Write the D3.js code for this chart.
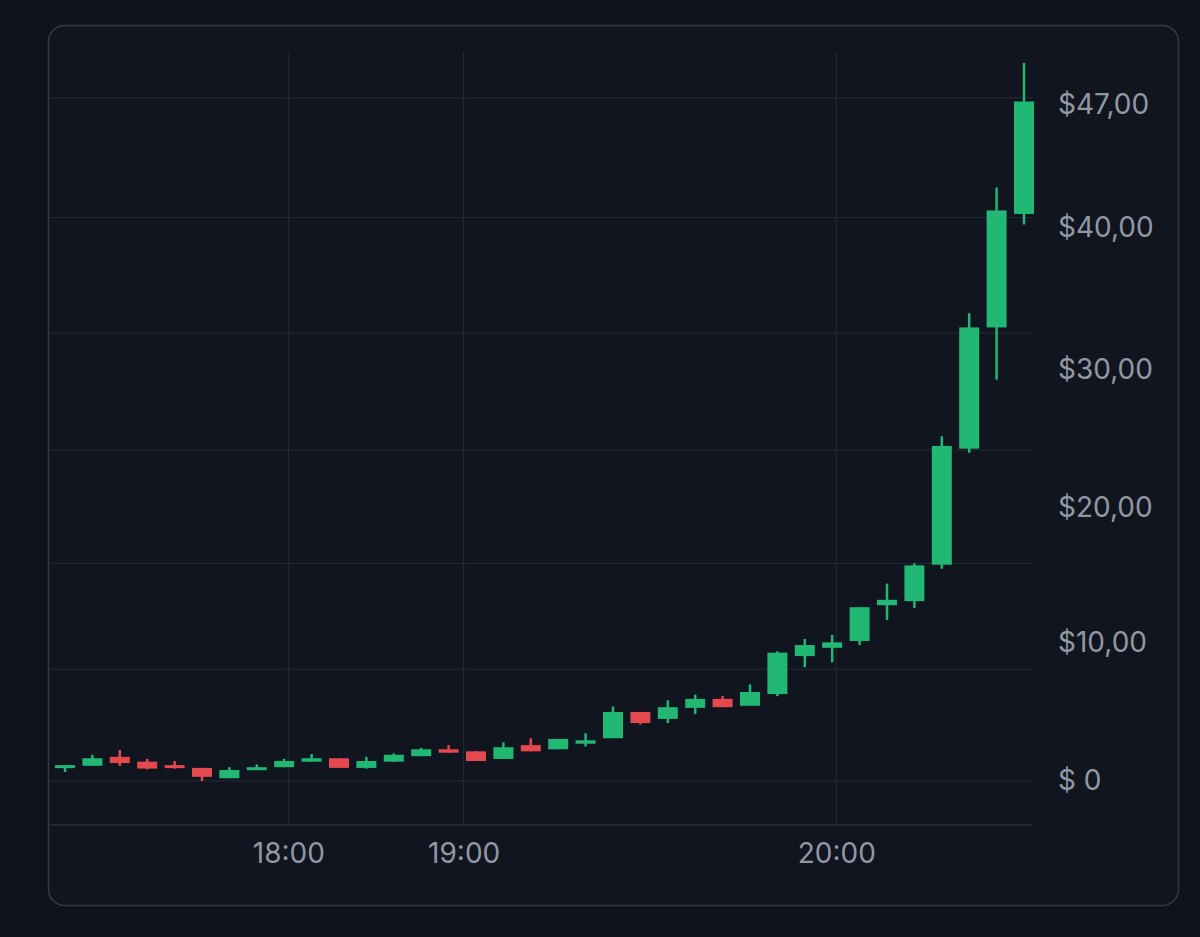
<!DOCTYPE html>
<html><head><meta charset="utf-8">
<script src="https://cdn.jsdelivr.net/npm/d3@7"></script>
<style>html,body{margin:0;background:#10131b;}svg{display:block}</style>
</head><body><svg id="c" width="1200" height="937"></svg>
<script>
const opens  = [1.0,1.1,1.75,1.4,1.15,0.95,0.2,0.8,1.0,1.4,1.65,0.95,1.4,1.8,2.3,2.15,1.6,2.6,2.3,2.7,3.1,5.0,4.5,5.3,5.95,5.45,6.3,9.05,9.65,10.15,12.8,13.1,15.8,24.3,33.0,40.8];
const closes = [1.15,1.65,1.3,0.9,0.95,0.3,0.8,1.0,1.45,1.65,0.95,1.45,1.9,2.3,2.05,1.45,2.45,2.15,3.05,2.95,5.0,4.2,5.35,5.95,5.35,6.45,9.3,9.85,10.05,12.65,13.2,15.75,24.5,33.0,41.0,47.2];
const highs  = [1.15,1.9,2.25,1.6,1.45,0.95,1.0,1.2,1.6,1.95,1.65,1.75,2.0,2.4,2.6,2.15,2.8,3.1,3.05,3.45,5.4,5.0,5.85,6.25,6.15,7.0,9.4,10.3,10.6,12.65,14.4,15.9,25.2,34.0,42.3,49.4];
const lows   = [0.65,1.1,1.1,0.85,0.9,0.0,0.2,0.8,1.0,1.4,0.95,0.9,1.4,1.8,2.05,1.45,1.6,2.15,2.3,2.5,3.1,4.1,4.2,4.85,5.35,5.45,6.15,8.25,8.6,9.85,11.7,12.6,15.5,24.0,29.3,40.2];
const yTickValues = [0,10,20,30,40,47];
const yTickLabels = ["$ 0","$10,00","$20,00","$30,00","$40,00","$47,00"];
const gridValues = [0,8.1,15.9,24.2,32.6,40.6,47.4];
const xTickIndex = [8.15,14.55,28.15];
const xTickLabels = ["18:00","19:00","20:00"];

const svg = d3.select("#c");
const y = d3.scaleLinear().domain([0,10,20,30,40,47]).range([781,643,508,370,228,105]);
const x = d3.scaleLinear().domain([0,35]).range([65,1024]);
const green="#21b874", red="#e5484f", grid="#262a34";

svg.append("rect").attr("x",48.5).attr("y",25.5).attr("width",1130).attr("height",880)
  .attr("rx",16).attr("fill","#111520").attr("stroke","#353a45").attr("stroke-width",1.5);

svg.append("g").selectAll("line").data(gridValues).join("line")
  .attr("x1",49).attr("x2",1032).attr("y1",d=>y(d)).attr("y2",d=>y(d))
  .attr("stroke",grid).attr("stroke-width",1);
svg.append("g").selectAll("line").data(xTickIndex).join("line")
  .attr("x1",d=>x(d)).attr("x2",d=>x(d)).attr("y1",52).attr("y2",825)
  .attr("stroke",grid).attr("stroke-width",1);
svg.append("line").attr("x1",49).attr("x2",1032).attr("y1",825).attr("y2",825).attr("stroke","#343843");

const yAxis = d3.axisRight(y).tickValues(yTickValues).tickFormat((d,i)=>yTickLabels[i]).tickSize(0).tickPadding(0);
const ga = svg.append("g").attr("transform","translate(1058,0)").call(yAxis);
ga.select(".domain").remove();
ga.selectAll("text").attr("fill","#9298a2").style("font-family","Inter, 'Noto Sans', sans-serif").style("font-size","28px");

const xAxis = d3.axisBottom(x).tickValues(xTickIndex).tickFormat((d,i)=>xTickLabels[i]).tickSize(0).tickPadding(0);
const gx = svg.append("g").attr("transform","translate(0,843)").call(xAxis);
gx.select(".domain").remove();
gx.selectAll("text").attr("fill","#9298a2").style("font-family","Inter, 'Noto Sans', sans-serif").style("font-size","28px");

const data = opens.map((o,i)=>({i,o,c:closes[i],h:highs[i],l:lows[i]}));
const bw = 20;
const g = svg.append("g");
g.selectAll("line.w").data(data).join("line").attr("class","w")
  .attr("x1",d=>x(d.i)).attr("x2",d=>x(d.i)).attr("y1",d=>y(d.h)).attr("y2",d=>y(d.l))
  .attr("stroke",d=>d.c>=d.o?green:red).attr("stroke-width",2.5);
g.selectAll("rect").data(data).join("rect")
  .attr("x",d=>x(d.i)-bw/2).attr("width",bw)
  .attr("y",d=>y(Math.max(d.o,d.c)))
  .attr("height",d=>Math.max(3,Math.abs(y(d.o)-y(d.c))))
  .attr("fill",d=>d.c>=d.o?green:red);
</script></body></html>
